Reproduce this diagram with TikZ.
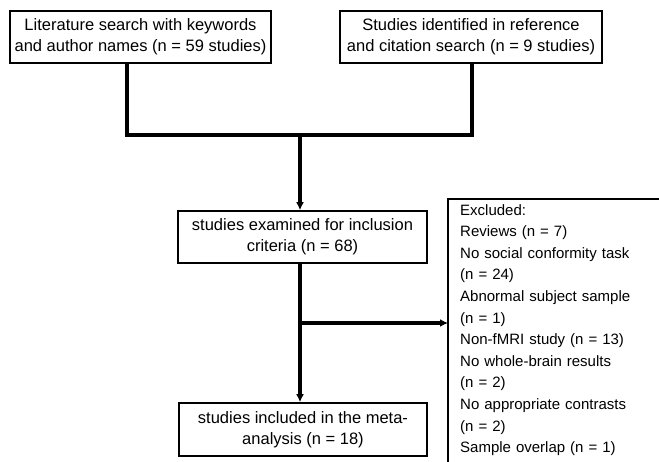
\documentclass[tikz,border=0pt]{standalone}
\usepackage{fontspec}
\setmainfont{Liberation Sans}
\usetikzlibrary{arrows.meta}
\tikzset{
  box/.style={draw,line width=1.6pt,align=center,inner sep=0pt,font=\fontsize{16.5}{21}\selectfont},
  excl/.style={anchor=north west,align=left,text width=230pt,inner xsep=12pt,inner ysep=5pt,font=\fontsize{15}{21.6}\selectfont},
  link/.style={line width=3.2pt},
  arr/.style={line width=3.2pt,-{Latex[length=8pt,width=8pt]}}
}
\begin{document}
\begin{tikzpicture}[x=1pt,y=-1pt]
\clip (0,0) rectangle (659,462);
\useasboundingbox (0,0) rectangle (659,462);
\node[box,minimum width=261pt,minimum height=52pt] (lit) at (140.5,37) {Literature search with keywords\\and author names (n = 59 studies)};
\node[box,minimum width=262pt,minimum height=52pt] (ref) at (471,37) {Studies identified in reference\\and citation search (n = 9 studies)};
\node[box,minimum width=249pt,minimum height=52pt] (exam) at (302.5,237) {studies examined for inclusion\\criteria (n = 68)};
\node[box,minimum width=248pt,minimum height=53pt] (incl) at (303,429.5) {studies included in the meta-\\analysis (n = 18)};
\node[excl] (out) at (448,199) {Excluded:\\Reviews (n = 7)\\No social conformity task\\(n = 24)\\Abnormal subject sample\\(n = 1)\\Non-fMRI study (n = 13)\\No whole-brain results\\(n = 2)\\No appropriate contrasts\\(n = 2)\\Sample overlap (n = 1)};
\draw[line width=1.6pt] (out.north west) rectangle +(260,290);
% joins
\coordinate (jl) at (127,135);
\coordinate (jr) at (472,135);
\coordinate (jm) at (300,135);
\coordinate (split) at (300,323);
\draw[link] (lit.south -| jl) -- (jl) -- (jr) -- (ref.south -| jr);
\draw[arr] (jm) -- (exam.north -| jm);
\draw[arr] (exam.south -| jm) -- (incl.north -| jm);
\draw[arr] (split) -- (split -| out.west);
\end{tikzpicture}
\end{document}
